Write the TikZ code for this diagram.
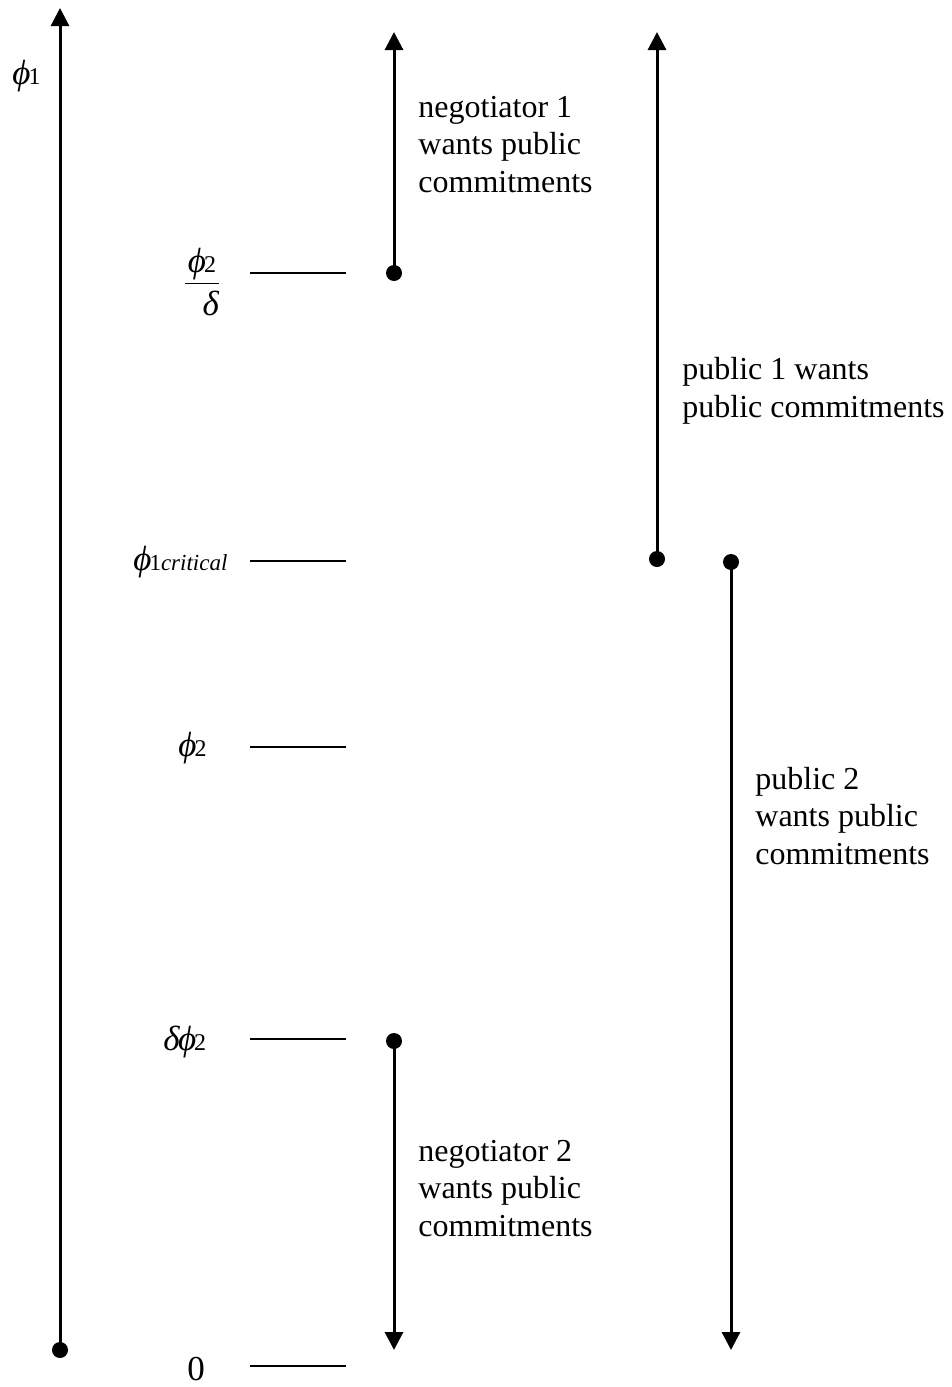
\documentclass[tikz,border=0pt]{standalone}
\usepackage{fontspec}
\setmainfont{Liberation Serif}
\usetikzlibrary{arrows.meta}
\newcommand{\phisym}{\textit{ϕ}}
\newcommand{\subsz}{\fontsize{12}{13}\selectfont}
\begin{document}
\begin{tikzpicture}[x=0.5pt,y=-0.5pt,
  axis/.style={line width=1.5pt,-{Triangle[width=9pt,length=9pt]}},
  tick/.style={line width=1pt},
  dot/.style={circle,fill=black,inner sep=0pt,minimum size=8pt},
  txt/.style={font=\fontsize{16}{18.6}\selectfont,align=left,anchor=base west,inner sep=0pt},
  lbl/.style={font=\fontsize{17.5}{20}\selectfont,inner sep=0pt}]
\useasboundingbox (0,0) rectangle (952,1387);
% main axis
\node[dot] (o) at (60,1350) {};
\coordinate (top) at (60,8);
\draw[axis] (o.center) -- (top);
\node[lbl,anchor=base west] (phi1) at (12,84) {\phisym\kern-1pt{\subsz 1}};
% ticks
\foreach \n/\y in {a/273,b/561,c/747,d/1039,e/1366}{
  \coordinate (\n l) at (250,\y);
  \coordinate (\n r) at (346,\y);
  \draw[tick] (\n l) -- (\n r);
}
% tick labels
\node[lbl,anchor=center] (lfrac) at (202,286) {\begin{tabular}{@{}c@{}}\phisym\kern-1pt{\subsz 2}\\[-1pt]\hline\rule{0pt}{16pt}\hspace{9pt}\textit{δ}\end{tabular}};
\node[lbl,anchor=base west] (lcrit) at (133,570) {\phisym\kern-1pt{\fontsize{11.5}{13}\selectfont 1\textit{critical}}};
\node[lbl,anchor=base west] (lphi2) at (178,756) {\phisym\kern-1pt{\subsz 2}};
\node[lbl,anchor=base west] (ldphi) at (163,1050) {\textit{δ}\kern-1pt\phisym\kern-1pt{\subsz 2}};
\node[lbl,anchor=base west] (lzero) at (187,1380) {0};
% negotiator 1
\node[dot] (n1) at (394,273) {};
\coordinate (n1t) at (394,32);
\draw[axis] (n1.center) -- (n1t);
\node[txt] (t1) at (418,192) {negotiator 1\\wants public\\commitments};
% public 1
\node[dot] (p1) at (657,559) {};
\coordinate (p1t) at (657,32);
\draw[axis] (p1.center) -- (p1t);
\node[txt] (t2) at (682,417) {public 1 wants\\public commitments};
% public 2
\node[dot] (p2) at (731,562) {};
\coordinate (p2b) at (731,1350);
\draw[axis] (p2.center) -- (p2b);
\node[txt] (t3) at (755,864) {public 2\\wants public\\commitments};
% negotiator 2
\node[dot] (n2) at (394,1041) {};
\coordinate (n2b) at (394,1350);
\draw[axis] (n2.center) -- (n2b);
\node[txt] (t4) at (418,1236) {negotiator 2\\wants public\\commitments};
\end{tikzpicture}
\end{document}
